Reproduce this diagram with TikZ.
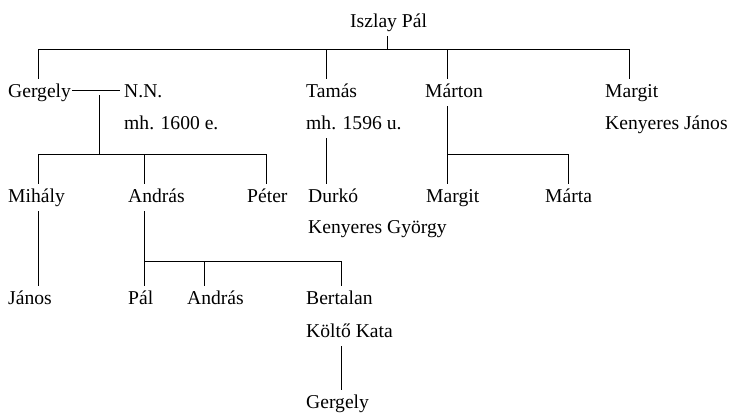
\documentclass[tikz,border=0pt]{standalone}
\usepackage{fontspec}
\newfontfamily\treefamily{Liberation Serif}
\newcommand\namefont{\treefamily\fontsize{19.6}{24}\selectfont}
\begin{document}
\begin{tikzpicture}[x=1pt,y=-1pt,
  every node/.style={anchor=base west, inner xsep=0pt, inner ysep=4pt,
    text height=14pt, text depth=5pt, font=\namefont},
  link/.style={draw=black, line width=0.9pt}]
\useasboundingbox (0,0) rectangle (730,413);
% columns and bar rows
\coordinate (xA) at (38,0);  \coordinate (xB) at (99,0);  \coordinate (xC) at (144,0);
\coordinate (xD) at (204,0); \coordinate (xE) at (266,0); \coordinate (xF) at (326,0);
\coordinate (xG) at (341,0); \coordinate (xH) at (387,0); \coordinate (xI) at (447,0);
\coordinate (xJ) at (568,0); \coordinate (xK) at (629,0);
\coordinate (r0) at (0,49); \coordinate (r1) at (0,154); \coordinate (r2) at (0,261);
\coordinate (r1b) at (0,95);
% names
\node (iszlay) at (350,27) {Iszlay Pál};
\node (gergely) at (8,97) {Gergely};
\node (nn) at (124,97) {N.N.};
\node (nnd) at (124,129) {mh. 1600 e.};
\node (tamas) at (306,97) {Tamás};
\node (tamasd) at (306,129) {mh. 1596 u.};
\node (marton) at (425,97) {Márton};
\node (margit) at (605,97) {Margit};
\node (margitd) at (605,129) {Kenyeres János};
\node (mihaly) at (8,202) {Mihály};
\node (andras) at (128,202) {András};
\node (peter) at (247,202) {Péter};
\node (durko) at (308,202) {Durkó};
\node (durkod) at (308,233) {Kenyeres György};
\node (margitb) at (426,202) {Margit};
\node (marta) at (545,202) {Márta};
\node (janos) at (8,304) {János};
\node (pal) at (128,304) {Pál};
\node (andrasb) at (187,304) {András};
\node (bertalan) at (306,304) {Bertalan};
\node (kata) at (306,337) {Költő Kata};
\node (gergelyb) at (306,408) {Gergely};
% connectors
\draw[link] (iszlay.south -| xH) -- (r0 -| xH);
\draw[link] (gergely.north -| xA) -- (r0 -| xA) -- (r0 -| xK) -- (margit.north -| xK);
\draw[link] (r0 -| xF) -- (tamas.north -| xF);
\draw[link] (r0 -| xI) -- (marton.north -| xI);
\draw[link] ([xshift=1pt,yshift=2pt]gergely.east) -- ([xshift=-4pt,yshift=2pt]nn.west);
\draw[link] (r1b -| xB) -- (r1 -| xB);
\draw[link] (mihaly.north -| xA) -- (r1 -| xA) -- (r1 -| xE) -- (peter.north -| xE);
\draw[link] (r1 -| xC) -- (andras.north -| xC);
\draw[link] (tamasd.south -| xF) -- (durko.north -| xF);
\draw[link] (marton.south -| xI) -- (margitb.north -| xI);
\draw[link] (r1 -| xI) -- (r1 -| xJ) -- (marta.north -| xJ);
\draw[link] (mihaly.south -| xA) -- (janos.north -| xA);
\draw[link] (andras.south -| xC) -- (pal.north -| xC);
\draw[link] (r2 -| xC) -- (r2 -| xG) -- (bertalan.north -| xG);
\draw[link] (r2 -| xD) -- (andrasb.north -| xD);
\draw[link] (kata.south -| xG) -- (gergelyb.north -| xG);
\end{tikzpicture}
\end{document}
